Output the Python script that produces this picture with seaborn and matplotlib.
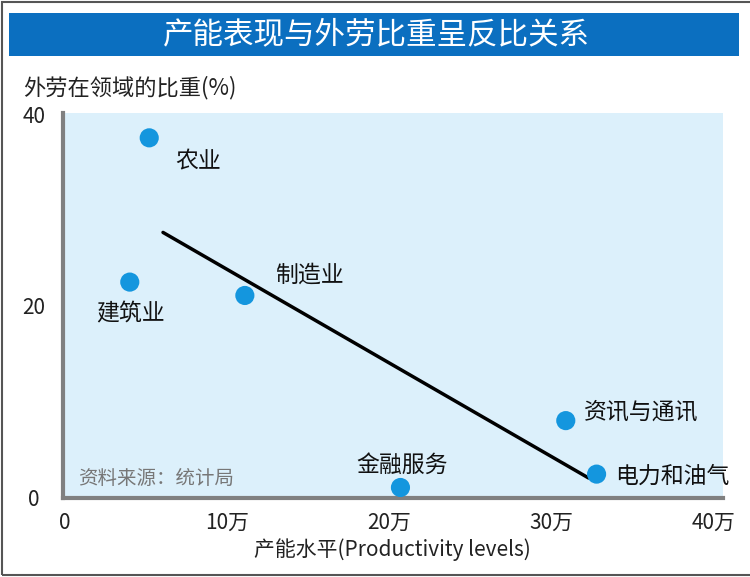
import matplotlib
matplotlib.use("Agg")
import matplotlib.pyplot as plt
import seaborn as sns
import pandas as pd
from matplotlib.patches import Rectangle

sectors = ["农业", "建筑业", "制造业", "金融服务", "资讯与通讯", "电力和油气"]
productivity = [5.2, 4.0, 11.1, 20.7, 30.9, 32.8]   # 万
foreign_share = [37.6, 22.5, 21.1, 1.0, 8.0, 2.4]   # %
trend_x = [6.05, 32.3]
trend_y = [27.7, 2.0]
xticks = [0, 10, 20, 30, 40]
xtick_labels = ["0", "10万", "20万", "30万", "40万"]
yticks = [0, 20, 40]
ytick_labels = ["0", "20", "40"]

sns.set_style("white")
plt.rcParams['font.family'] = ['Noto Sans CJK SC', 'DejaVu Sans']

fig = plt.figure(figsize=(7.5, 5.77), dpi=100)
W, H = 750, 577

def fx(px):
    return px / W

def fy(py):
    return 1 - py / H

# outer border
fig.patches.append(Rectangle((fx(2), fy(575)), fx(760), fy(2) - fy(575), transform=fig.transFigure,
                             fill=False, edgecolor="#555555", lw=1.5))
# title bar
fig.patches.append(Rectangle((fx(9), fy(56)), fx(739) - fx(9), fy(13) - fy(56),
                             transform=fig.transFigure, facecolor="#0b6fc0", edgecolor="none"))
fig.text(fx(376), fy(35), "产能表现与外劳比重呈反比关系", color="white", fontsize=22,
         ha="center", va="center")

ax = fig.add_axes([fx(63), fy(498), fx(723) - fx(63), fy(113) - fy(498)])
ax.set_facecolor("#dcf0fb")

df = pd.DataFrame({"sector": sectors, "x": productivity, "y": foreign_share})
tdf = pd.DataFrame({"x": trend_x, "y": trend_y})

sns.lineplot(data=tdf, x="x", y="y", ax=ax, color="black", lw=2.5)
sns.scatterplot(data=df, x="x", y="y", ax=ax, color="#1496de", s=190, edgecolor="none", zorder=5)

# label offsets in pixels (converted to points below)
offsets = {
    "农业": (49, -24),
    "建筑业": (1, -32),
    "制造业": (65, 20),
    "金融服务": (2, 22),
    "资讯与通讯": (75, 9),
    "电力和油气": (76, -2),
}
for s, x, y in zip(sectors, productivity, foreign_share):
    ox, oy = offsets[s]
    ax.annotate(s, (x, y), xytext=(ox * 0.72, oy * 0.72), textcoords="offset points",
                ha="center", va="center", fontsize=16.5, color="#111111",
                fontweight="medium", annotation_clip=False)

fig.text(fx(78), fy(478), "资料来源：统计局", fontsize=14, color="#777777", ha="left", va="center")

ax.set_xlim(-0.12, 40.6)
ax.set_ylim(-0.1, 40.2)
ax.set_xticks(xticks)
ax.set_xticklabels(xtick_labels)
ax.set_yticks(yticks)
ax.set_yticklabels(ytick_labels)
ax.tick_params(axis="both", length=0, labelsize=15, labelcolor="#222222")
ax.tick_params(axis="x", pad=10)
ax.tick_params(axis="y", pad=21)
for lbl in ax.get_yticklabels():
    lbl.set_ha("center")
ax.set_xlabel("")
ax.set_ylabel("")
for side in ["top", "right"]:
    ax.spines[side].set_visible(False)
for side in ["left", "bottom"]:
    ax.spines[side].set_color("#808080")
    ax.spines[side].set_linewidth(3)

fig.text(fx(23), fy(88), "外劳在领域的比重(%)", fontsize=16, color="#222222", ha="left", va="center")
fig.text(fx(392), fy(550), "产能水平(Productivity levels)", fontsize=15, color="#222222",
         ha="center", va="center")

fig.savefig("out.png", dpi=100, facecolor="white")
